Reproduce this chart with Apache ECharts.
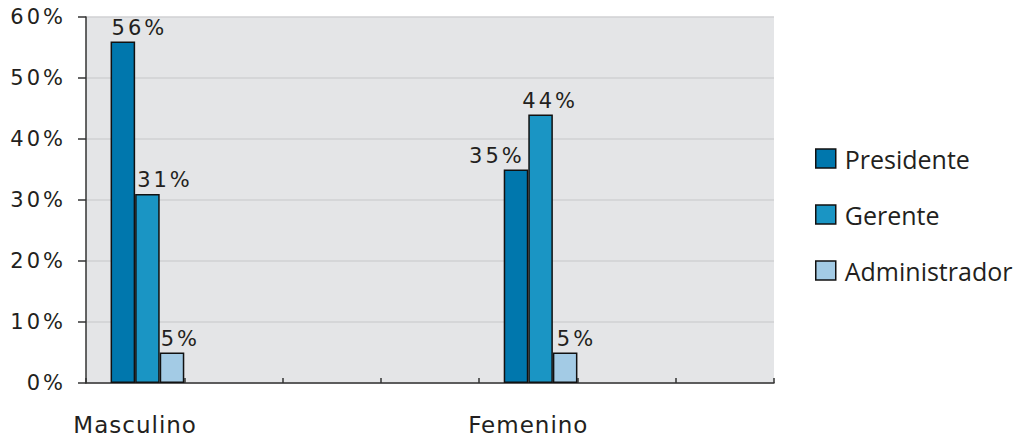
<!DOCTYPE html>
<html>
<head>
<meta charset="utf-8">
<script src="https://cdn.jsdelivr.net/npm/echarts@6/dist/echarts.min.js"></script>
<style>
  html, body { margin: 0; padding: 0; background: #ffffff; }
  #chart { width: 1024px; height: 439px; }
  /* tracked lettering for the chart's own text (not the legend) */
  #chart text[style*="DejaVu"] { letter-spacing: 3px; }
  #chart text[style*="DejaVu"][style*="23px"] { letter-spacing: 1px; }
</style>
</head>
<body>
<div id="chart"></div>
<script>
// Category slots along the horizontal axis (only two carry data)
const categories = ['Masculino', '', '', '', 'Femenino', '', ''];
const seriesNames = ['Presidente', 'Gerente', 'Administrador'];
const presidente = [56, null, null, null, 35, null, null];
const gerente = [31, null, null, null, 44, null, null];
const administrador = [5, null, null, null, 5, null, null];
const yTicks = [0, 10, 20, 30, 40, 50, 60];

const colors = ['#0077ad', '#1a95c4', '#a3cbe5'];
const textColor = '#231f20';
const axisFont = '"DejaVu Sans", sans-serif';

// per-bar placement of the value labels (relative to the bar's top-left)
const labelPlacement = {
  Presidente: [{ pos: [1, -3], align: 'left' }, { pos: [21, -3], align: 'right' }],
  Gerente: [{ pos: [2, -3], align: 'left' }, { pos: [-6, -3], align: 'left' }],
  Administrador: [{ pos: [1, -3], align: 'left' }, { pos: [4, -3], align: 'left' }]
};

function withLabels(name, values) {
  let k = 0;
  return values.map(function (v) {
    if (v === null) return '-';
    const p = labelPlacement[name][k++];
    return {
      value: v,
      label: { position: p.pos, align: p.align, verticalAlign: 'bottom' }
    };
  });
}

const seriesValues = [presidente, gerente, administrador];

const barSeries = seriesNames.map(function (name, i) {
  return {
    name: name,
    type: 'bar',
    barWidth: '25%',
    barGap: '0%',
    barCategoryGap: '0%',
    data: withLabels(name, seriesValues[i]),
    itemStyle: { color: colors[i], borderColor: '#111111', borderWidth: 1.5 },
    label: {
      show: true,
      formatter: '{c}%',
      fontFamily: axisFont,
      fontSize: 21,
      color: textColor
    },
    emphasis: { disabled: true },
    animation: false
  };
});

// empty leading slot in each category group
const leadSlot = {
  name: 'lead',
  type: 'bar',
  barWidth: '25%',
  barGap: '0%',
  barCategoryGap: '0%',
  data: categories.map(function () { return '-'; }),
  silent: true,
  animation: false
};

const chart = echarts.init(document.getElementById('chart'), null, { renderer: 'svg' });
chart.setOption({
  backgroundColor: '#ffffff',
  animation: false,
  grid: {
    left: 86, right: 250, top: 17, bottom: 56,
    show: true, backgroundColor: '#e4e5e7', borderWidth: 0
  },
  legend: {
    data: seriesNames,
    orient: 'vertical',
    left: 815,
    top: 146,
    padding: 0,
    itemWidth: 20,
    itemHeight: 19,
    itemGap: 31,
    icon: 'rect',
    itemStyle: { borderColor: '#111111', borderWidth: 1.5 },
    textStyle: {
      fontFamily: '"Open Sans", sans-serif',
      fontSize: 25,
      lineHeight: 24,
      color: textColor,
      padding: [0, 0, 0, 4]
    }
  },
  xAxis: {
    type: 'category',
    data: categories,
    boundaryGap: true,
    axisLine: { show: true, lineStyle: { color: '#333333', width: 1.5 } },
    axisTick: { show: true, inside: true, length: 5, lineStyle: { color: '#333333', width: 1.5 } },
    axisLabel: {
      interval: 0,
      margin: 30,
      fontFamily: axisFont,
      fontSize: 23,
      color: textColor
    },
    splitLine: { show: false }
  },
  yAxis: {
    type: 'value',
    min: yTicks[0],
    max: yTicks[yTicks.length - 1],
    interval: 10,
    axisLine: { show: true, lineStyle: { color: '#333333', width: 1.5 } },
    axisTick: { show: true, inside: false, length: 8, lineStyle: { color: '#333333', width: 1.5 } },
    axisLabel: {
      margin: 20,
      formatter: '{value}%',
      fontFamily: axisFont,
      fontSize: 21,
      color: textColor
    },
    splitLine: { show: true, lineStyle: { color: '#d0d1d3', width: 1.5 } }
  },
  series: [leadSlot].concat(barSeries)
});
</script>
</body>
</html>
